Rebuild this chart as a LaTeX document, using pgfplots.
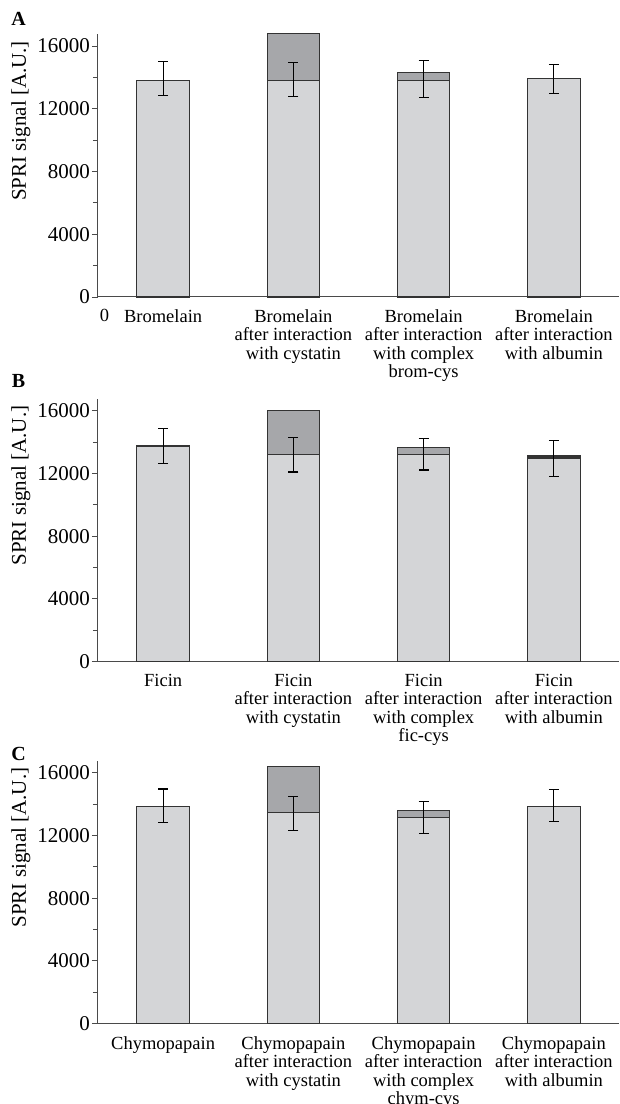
\documentclass[border=0pt]{standalone}
\usepackage{fontspec}
\setmainfont{Liberation Serif}
\usepackage{pgfplots}
\usepackage{pgfplotstable}
\pgfplotsset{compat=1.18}
\definecolor{axisgray}{HTML}{4A4A4A}
\definecolor{barline}{HTML}{333333}
\definecolor{lightfill}{HTML}{D4D5D7}
\definecolor{darkfill}{HTML}{A6A7AA}

\pgfplotstableread{
x light total ep em
1 13810 13810 1210 980
2 13810 16770 1150 1040
3 13810 14330 1240 1120
4 13920 13920 890 960
}\dataA
\pgfplotstableread{
x light total ep em
1 13750 13750 1100 1110
2 13190 16000 1090 1100
3 13190 13660 1050 970
4 12980 13110 1090 1160
}\dataB
\pgfplotstableread{
x light total ep em
1 13860 13860 1100 1060
2 13460 16390 1040 1130
3 13140 13600 1040 1020
4 13860 13860 1060 960
}\dataC

\pgfplotsset{
 panel/.style={
  scale only axis, width=521pt, height=262.8pt,
  xmin=0.5, xmax=4.5, ymin=0, ymax=16750,
  axis lines=left, axis line style={-, line width=1pt, draw=axisgray},
  xtick={1,2,3,4}, xtick style={draw=none},
  ytick={0,4000,8000,12000,16000}, minor y tick num=1,
  tick align=outside, major tick length=6pt, minor tick length=5pt,
  ytick style={line width=0.9pt, draw=axisgray},
  scaled y ticks=false,
  /pgf/number format/.cd, 1000 sep={}, assume math mode=true, /pgfplots/.cd,
  yticklabel style={font=\fontsize{21}{21}\selectfont, inner sep=2pt},
  xticklabel style={font=\fontsize{18.5}{18.5}\selectfont, align=center, yshift=-3pt},
  ylabel={SPRI signal [A.U.]},
  ylabel style={font=\fontsize{21}{21}\selectfont, at={(axis description cs:-0.148,0.67)}, anchor=center},
  clip=false,
 },
 darkbar/.style={ybar, bar width=52.5pt, bar shift=0pt, fill=darkfill, draw=barline, line width=1.1pt},
 lightbar/.style={ybar, bar width=52.5pt, bar shift=0pt, fill=lightfill, draw=barline, line width=1.1pt,
   error bars/.cd, y dir=both, y explicit,
   error bar style={line width=1.1pt, draw=black, solid},
   error mark options={black, line width=1.1pt, mark size=5pt, rotate=90}},
}

\begin{document}
\begin{tikzpicture}[x=1pt,y=1pt]
\useasboundingbox (0,0) rectangle (619,1104);
% Panel A
\begin{axis}[panel, at={(98pt,807pt)}, anchor=south west,
  xticklabels={{Bromelain},{Bromelain\\after interaction\\with cystatin},{Bromelain\\after interaction\\with complex\\brom-cys},{Bromelain\\after interaction\\with albumin}},
  extra x ticks={0.55}, extra x tick labels={0}, extra x tick style={xtick style={draw=none}}]
\addplot[darkbar] table[x=x, y=total] {\dataA};
\addplot[lightbar] table[x=x, y=light, y error plus=ep, y error minus=em] {\dataA};
\end{axis}
% Panel B
\begin{axis}[panel, at={(98pt,442.3pt)}, anchor=south west,
  xticklabels={{Ficin},{Ficin\\after interaction\\with cystatin},{Ficin\\after interaction\\with complex\\fic-cys},{Ficin\\after interaction\\with albumin}}]
\addplot[darkbar] table[x=x, y=total] {\dataB};
\addplot[lightbar] table[x=x, y=light, y error plus=ep, y error minus=em] {\dataB};
\end{axis}
% Panel C
\begin{axis}[panel, at={(98pt,80.3pt)}, anchor=south west,
  xticklabels={{Chymopapain},{Chymopapain\\after interaction\\with cystatin},{Chymopapain\\after interaction\\with complex\\chym-cys},{Chymopapain\\after interaction\\with albumin}}]
\addplot[darkbar] table[x=x, y=total] {\dataC};
\addplot[lightbar] table[x=x, y=light, y error plus=ep, y error minus=em] {\dataC};
\end{axis}
\node[font=\fontsize{20}{20}\selectfont\bfseries] at (18.5,1085.5) {A};
\node[font=\fontsize{20}{20}\selectfont\bfseries] at (18.5,723) {B};
\node[font=\fontsize{20}{20}\selectfont\bfseries] at (18.5,350) {C};
\end{tikzpicture}
\end{document}
